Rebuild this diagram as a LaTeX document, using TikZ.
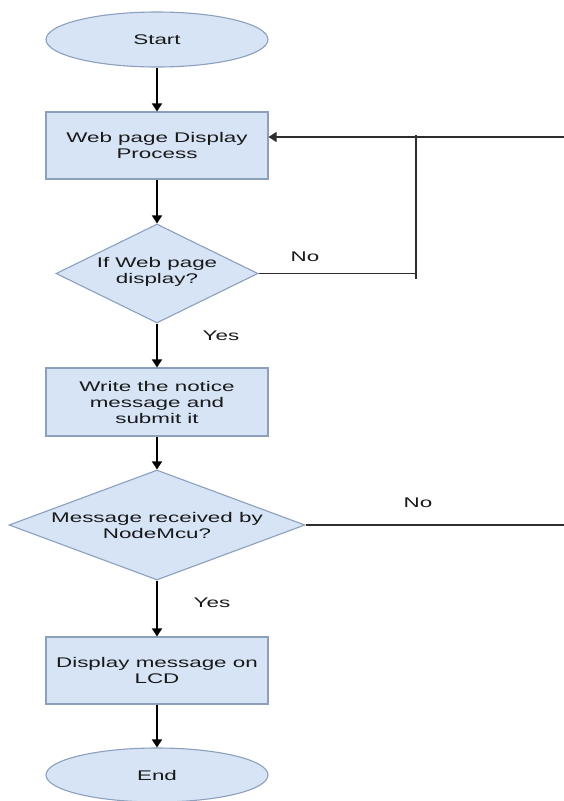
\documentclass[tikz,border=0pt]{standalone}
\usepackage{fontspec}
\setmainfont{Liberation Sans}[FakeStretch=1.6]
\usetikzlibrary{shapes.geometric,arrows.meta}
\definecolor{boxfill}{RGB}{214,228,246}
\definecolor{boxline}{RGB}{140,160,188}
\definecolor{txt}{RGB}{25,25,25}
\definecolor{fbline}{RGB}{45,45,45}
\tikzset{
  shapebase/.style={fill=boxfill,draw=boxline,line width=1.1pt,inner sep=0pt},
  term/.style={shapebase,ellipse,minimum width=222pt,minimum height=55pt},
  proc/.style={shapebase,rectangle,minimum width=222pt,minimum height=67pt},
  decis/.style={shapebase,diamond},
  lbl/.style={text=txt,font=\fontsize{14}{16}\selectfont,align=center,inner sep=0pt},
  flow/.style={line width=1.5pt,-{Triangle[width=10pt,length=8pt]}},
  fb/.style={line width=1.2pt,draw=fbline},
}
\begin{document}
\begin{tikzpicture}[x=1pt,y=-1pt]
\useasboundingbox (0,0) rectangle (564,801);
\node[term] (start) at (157,39.5) {};
\node[lbl] (startt) at (start) {Start};
\node[proc] (web) at (157,145.5) {};
\node[lbl] (webt) at (web) {Web page Display\\Process};
\node[decis,minimum width=202pt,minimum height=99pt] (d1) at (157,273.5) {};
\node[lbl] (d1t) at (157,272) {If Web page\\display?};
\node[proc,minimum height=68pt] (write) at (157,402) {};
\node[lbl] (writet) at (write) {Write the notice\\message and\\submit it};
\node[decis,minimum width=296pt,minimum height=110pt] (d2) at (157,525) {};
\node[lbl] (d2t) at (157,525) {Message received by\\NodeMcu?};
\node[proc] (disp) at (157,670.5) {};
\node[lbl] (dispt) at (disp) {Display message on\\LCD};
\node[term,minimum height=54pt] (end) at (157,775) {};
\node[lbl] (endt) at (end) {End};

\node[lbl] (no1) at (305,257) {No};
\node[lbl] (yes1) at (221,336) {Yes};
\node[lbl] (no2) at (418,503) {No};
\node[lbl] (yes2) at (212,603) {Yes};

\draw[flow] (start) -- (web);
\draw[flow] (web) -- (d1);
\draw[flow] (d1) -- (write);
\draw[flow] (write) -- (d2);
\draw[flow] (d2) -- (disp);
\draw[flow] (disp) -- (end);

\coordinate (fr) at (564,137);
\coordinate (jt) at (416,135);
\coordinate (jb) at (416,279);
\coordinate (fr2) at (564,525);
\draw[fb] (d1.east) -- (d1.east -| jb);
\draw[fb] (jb) -- (jt);
\draw[fb,-{Triangle[width=10pt,length=8pt]}] (fr) -- (fr -| web.east);
\draw[fb] (d2.east) -- (fr2);
\end{tikzpicture}
\end{document}
